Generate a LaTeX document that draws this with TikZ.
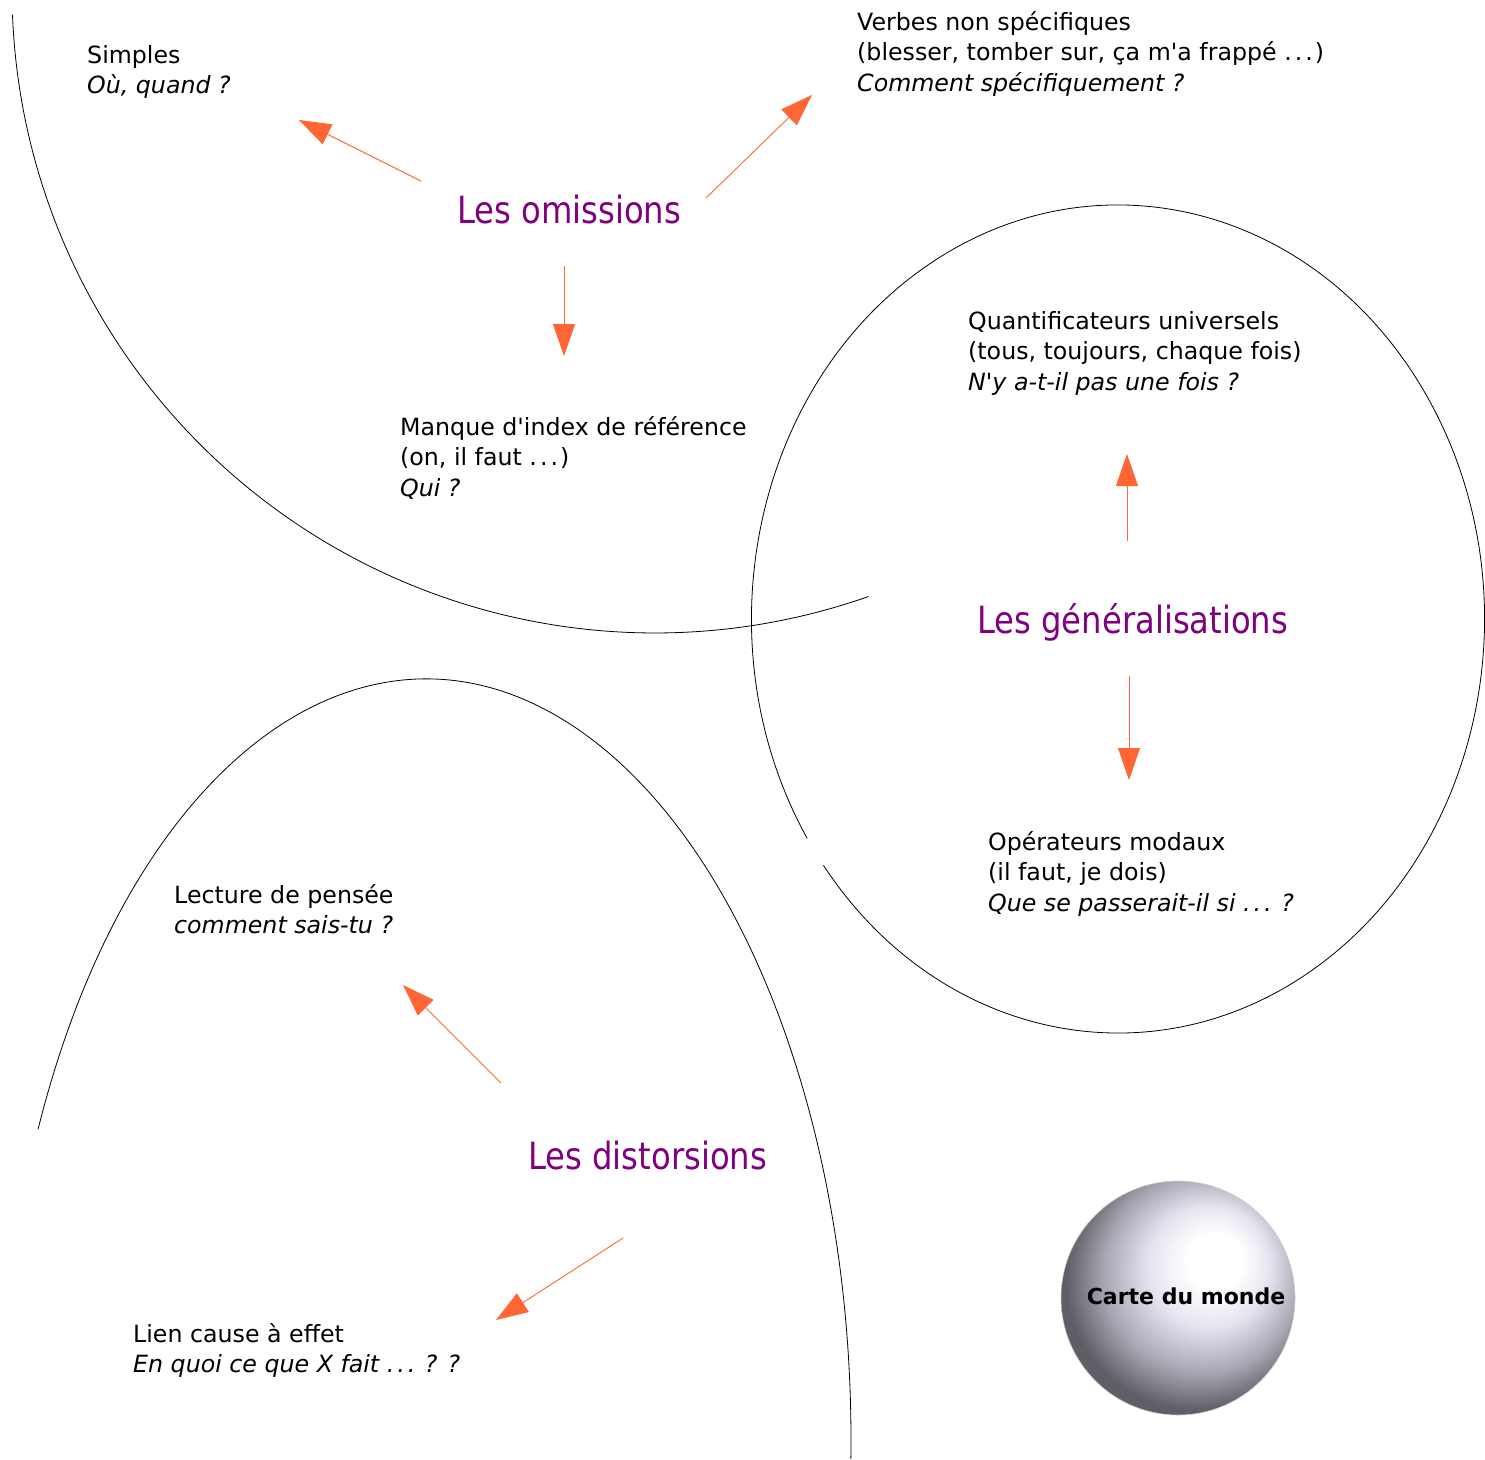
\documentclass[tikz,border=0pt]{standalone}
\usepackage{fontspec}
\setmainfont{DejaVu Sans}[Ligatures=TeXOff]
\newfontfamily\themefont{DejaVu Sans}[FakeStretch=0.86]
\usetikzlibrary{arrows.meta}
\definecolor{mapline}{HTML}{FF6633}
\definecolor{mapviolet}{HTML}{800080}
\definecolor{ballhigh}{HTML}{E4E4F0}
\definecolor{ballmid}{HTML}{A8A8B4}
\definecolor{balldark}{HTML}{5E5E66}
\pgfdeclareradialshading{worldball}{\pgfpoint{9bp}{9bp}}{%
  color(0bp)=(white); color(6bp)=(white); color(13bp)=(ballhigh);
  color(21bp)=(ballmid); color(28bp)=(balldark); color(50bp)=(balldark)}
\newcommand\suite{.\kern3pt.\kern3pt.\kern2pt}

\begin{document}
\begin{tikzpicture}[x=1pt, y=-1pt,
  note/.style={font=\fontsize{23.7}{30.5}\selectfont, align=left, anchor=north west, inner sep=0pt},
  theme/.style={font=\themefont\fontsize{37.5}{40}\selectfont, text=mapviolet, anchor=base west, inner sep=0pt},
  pointer/.style={draw=mapline, line width=0.9pt, -{Triangle[length=32pt, width=22pt]}},
  rim/.style={draw=black, line width=0.8pt}]

  \useasboundingbox (0,0) rectangle (1485,1459);

  % outlines
  \draw[rim] (655,-10) ++(177.8:643) arc[start angle=177.8, end angle=70.6, radius=643];
  \draw[rim] (1118,619) ++(148:366.5 and 414) arc[start angle=148, end angle=503.5, x radius=366.5, y radius=414];
  \draw[rim] (426,1440) ++(204.1:425 and 761) arc[start angle=204.1, end angle=361.4, x radius=425, y radius=761];

  % titles
  \node[theme] (omissions) at (457,223) {Les omissions};
  \node[theme] (generalisations) at (977,633) {Les généralisations};
  \node[theme] (distorsions) at (528,1169) {Les distorsions};

  % omissions
  \node[note] (simples) at (87,45) {Simples\\\textit{Où, quand ?}};
  \node[note] (verbes) at (857,11) {Verbes non spécifiques\\(blesser, tomber sur, ça m'a frappé \suite)\\\textit{Comment spécifiquement ?}};
  \node[note] (index) at (400,416) {Manque d'index de référence\\(on, il faut \suite)\\\textit{Qui ?}};

  % generalisations
  \node[note] (quantif) at (968,311) {Quantificateurs universels\\(tous, toujours, chaque fois)\\\textit{N'y a-t-il pas une fois ?}};
  \node[note] (modaux) at (988,831) {Opérateurs modaux\\(il faut, je dois)\\\textit{Que se passerait-il si \suite\ ?}};

  % distortions
  \node[note] (lecture) at (174,884) {Lecture de pensée\\\textit{comment sais-tu ?}};
  \node[note] (cause) at (133,1323) {Lien cause à effet\\\textit{En quoi ce que X fait \suite\ ? ?}};

  % carte du monde
  \node[circle, minimum size=234pt, inner sep=0pt, shading=worldball, draw=gray!40, line width=0.6pt] (monde) at (1178,1298) {};
  \node[font=\bfseries\fontsize{22}{24}\selectfont] (carte) at (1186,1296) {Carte du monde};

  % ghost nodes
  \node[coordinate] (O1) at (421,181) {};
  \node[coordinate] (S1) at (299,120) {};
  \node[coordinate] (O2) at (706,198) {};
  \node[coordinate] (V1) at (812,95) {};
  \node[coordinate] (O3) at (564,266) {};
  \node[coordinate] (M1) at (564,356) {};
  \node[coordinate] (G1) at (1127,541) {};
  \node[coordinate] (Q1) at (1127,454) {};
  \node[coordinate] (G2) at (1129,676) {};
  \node[coordinate] (P1) at (1129,780) {};
  \node[coordinate] (D1) at (501,1083) {};
  \node[coordinate] (L1) at (403,985) {};
  \node[coordinate] (D2) at (623,1238) {};
  \node[coordinate] (C1) at (496,1320) {};

  \draw[pointer] (O1) -- (S1);
  \draw[pointer] (O2) -- (V1);
  \draw[pointer] (O3) -- (M1);
  \draw[pointer] (G1) -- (Q1);
  \draw[pointer] (G2) -- (P1);
  \draw[pointer] (D1) -- (L1);
  \draw[pointer] (D2) -- (C1);

\end{tikzpicture}
\end{document}
